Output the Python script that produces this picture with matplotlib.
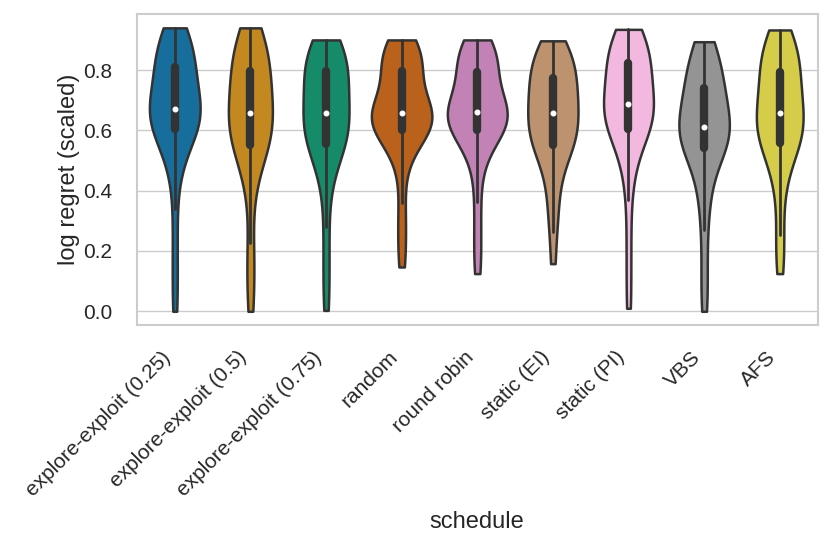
import matplotlib
matplotlib.use("Agg")
import matplotlib.pyplot as plt
import pandas as pd
import seaborn as sns

# schedules on the x axis
schedules = ["explore-exploit (0.25)", "explore-exploit (0.5)", "explore-exploit (0.75)",
             "random", "round robin", "static (EI)", "static (PI)", "VBS", "AFS"]

# approximate quantiles (0%, 2.5%, ..., 100%) of scaled log regret
ee_025 = [0.00, 0.11, 0.22, 0.34, 0.45, 0.49, 0.52, 0.545, 0.568, 0.588,
          0.605, 0.612, 0.619, 0.625, 0.632, 0.638, 0.645, 0.652, 0.658, 0.664,
          0.67, 0.684, 0.698, 0.712, 0.726, 0.74, 0.754, 0.768, 0.782, 0.796,
          0.81, 0.823, 0.836, 0.85, 0.863, 0.876, 0.889, 0.902, 0.915, 0.928, 0.94]
ee_05 = [0.00, 0.08, 0.16, 0.225, 0.35, 0.43, 0.47, 0.497, 0.518, 0.536,
         0.551, 0.562, 0.572, 0.583, 0.594, 0.605, 0.615, 0.626, 0.637, 0.647,
         0.658, 0.672, 0.686, 0.70, 0.714, 0.728, 0.741, 0.755, 0.769, 0.783,
         0.797, 0.811, 0.825, 0.84, 0.854, 0.868, 0.882, 0.897, 0.911, 0.926, 0.94]
ee_075 = [0.003, 0.095, 0.185, 0.28, 0.38, 0.44, 0.48, 0.51, 0.53, 0.544,
          0.554, 0.564, 0.575, 0.585, 0.596, 0.606, 0.616, 0.627, 0.637, 0.648,
          0.658, 0.672, 0.686, 0.70, 0.714, 0.728, 0.741, 0.755, 0.769, 0.783,
          0.797, 0.807, 0.818, 0.828, 0.838, 0.849, 0.859, 0.869, 0.88, 0.89, 0.90]
rand = [0.147, 0.22, 0.29, 0.36, 0.46, 0.51, 0.54, 0.565, 0.58, 0.592,
        0.60, 0.606, 0.612, 0.617, 0.623, 0.629, 0.635, 0.641, 0.646, 0.652,
        0.658, 0.665, 0.673, 0.682, 0.692, 0.705, 0.72, 0.737, 0.756, 0.776,
        0.797, 0.808, 0.82, 0.831, 0.842, 0.852, 0.862, 0.872, 0.882, 0.891, 0.90]
round_robin = [0.125, 0.20, 0.28, 0.363, 0.45, 0.50, 0.535, 0.56, 0.578, 0.59,
               0.60, 0.606, 0.613, 0.619, 0.626, 0.633, 0.64, 0.647, 0.654, 0.658,
               0.662, 0.669, 0.676, 0.684, 0.693, 0.704, 0.718, 0.735, 0.754, 0.774,
               0.794, 0.806, 0.818, 0.829, 0.84, 0.851, 0.861, 0.871, 0.881, 0.891, 0.90]
static_ei = [0.158, 0.263, 0.32, 0.37, 0.42, 0.455, 0.485, 0.51, 0.528, 0.541,
             0.551, 0.562, 0.572, 0.583, 0.594, 0.605, 0.615, 0.626, 0.637, 0.647,
             0.658, 0.67, 0.681, 0.693, 0.704, 0.716, 0.727, 0.739, 0.75, 0.762,
             0.773, 0.785, 0.798, 0.81, 0.823, 0.835, 0.847, 0.86, 0.872, 0.885, 0.897]
static_pi = [0.01, 0.13, 0.25, 0.368, 0.45, 0.49, 0.525, 0.555, 0.578, 0.594,
             0.606, 0.614, 0.622, 0.631, 0.639, 0.647, 0.655, 0.663, 0.672, 0.68,
             0.688, 0.701, 0.715, 0.728, 0.742, 0.755, 0.768, 0.782, 0.795, 0.809,
             0.822, 0.833, 0.845, 0.856, 0.867, 0.878, 0.89, 0.901, 0.912, 0.924, 0.935]
vbs = [0.00, 0.08, 0.17, 0.269, 0.34, 0.39, 0.43, 0.465, 0.495, 0.52,
       0.54, 0.547, 0.554, 0.562, 0.569, 0.576, 0.583, 0.59, 0.598, 0.605,
       0.612, 0.625, 0.637, 0.65, 0.663, 0.676, 0.688, 0.701, 0.714, 0.726,
       0.739, 0.755, 0.77, 0.785, 0.801, 0.817, 0.832, 0.848, 0.863, 0.879, 0.894]
afs = [0.125, 0.19, 0.252, 0.33, 0.41, 0.45, 0.48, 0.508, 0.53, 0.545,
       0.557, 0.567, 0.577, 0.587, 0.597, 0.607, 0.618, 0.628, 0.638, 0.648,
       0.658, 0.672, 0.685, 0.699, 0.712, 0.726, 0.74, 0.753, 0.767, 0.78,
       0.794, 0.808, 0.822, 0.836, 0.85, 0.864, 0.877, 0.891, 0.905, 0.919, 0.933]

values = [ee_025, ee_05, ee_075, rand, round_robin, static_ei, static_pi, vbs, afs]

rows = []
for name, vals in zip(schedules, values):
    for v in vals:
        rows.append({"schedule": name, "log regret (scaled)": v})
df = pd.DataFrame(rows)

sns.set_theme(style="whitegrid")
plt.rcParams['font.family'] = ['Liberation Sans', 'DejaVu Sans']

fig, ax = plt.subplots(figsize=(8.3, 5.47), dpi=100)
sns.violinplot(data=df, x="schedule", y="log regret (scaled)", hue="schedule",
               order=schedules, hue_order=schedules, palette="colorblind",
               cut=0, inner="box", linewidth=1.8, linecolor="#333333",
               saturation=0.75, legend=False, ax=ax, bw_adjust=0.85, width=0.8,
               common_norm=True,
               inner_kws=dict(box_width=6, whis_width=2, marker="o",
                              markersize=3.5, markeredgewidth=0.8,
                              solid_capstyle="round"))

ax.set_ylim(-0.047, 0.987)
ax.set_yticks([0.0, 0.2, 0.4, 0.6, 0.8])
ax.tick_params(axis="both", labelsize=15, colors="#262626")
ax.tick_params(axis="y", pad=12)
ax.tick_params(axis="x", pad=10)
ax.set_xticks(range(len(schedules)))
ax.set_xticklabels(schedules, rotation=45, ha="right")
ax.set_xlabel("schedule", fontsize=17, labelpad=8)
ax.set_ylabel("log regret (scaled)", fontsize=17, labelpad=2)
for s in ax.spines.values():
    s.set_color("#cccccc")
    s.set_linewidth(1.5)

fig.subplots_adjust(left=0.165, right=0.985, top=0.975, bottom=0.405)
fig.savefig("out.png", dpi=100)
